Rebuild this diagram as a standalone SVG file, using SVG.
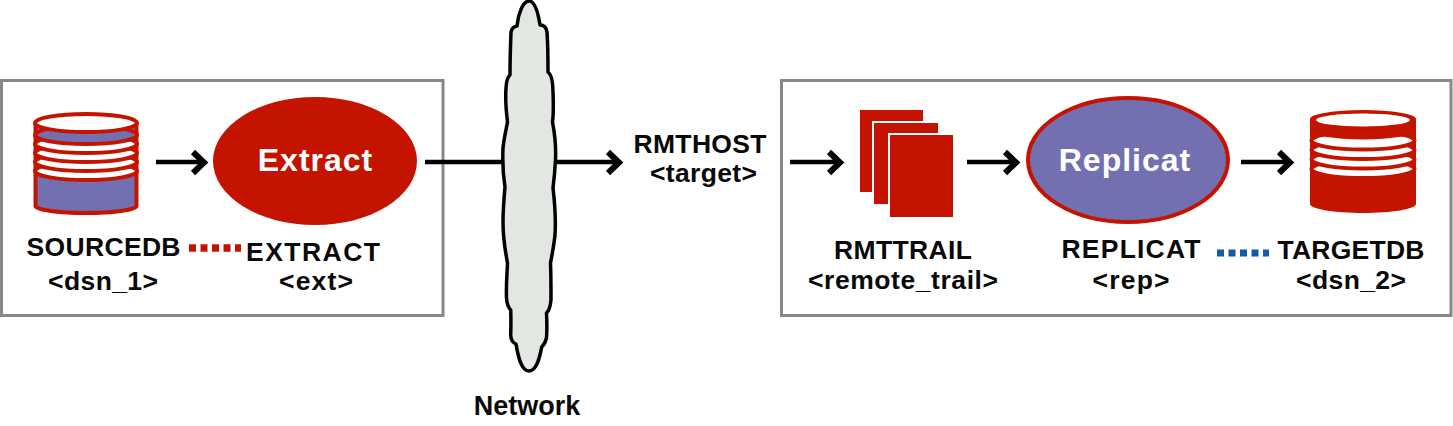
<svg xmlns="http://www.w3.org/2000/svg" width="1453" height="426" viewBox="0 0 1453 426">
<defs>
<style>
text{font-family:"Liberation Sans",Arial,sans-serif;font-weight:700;fill:#0a0a0a;text-anchor:middle;font-size:26.5px}
.box{fill:#fff;stroke:#888;stroke-width:3}
.arrow{fill:none;stroke:#000;stroke-width:4.500}
.head{fill:none;stroke:#000;stroke-width:6}
.big{fill:#fff;font-size:32px;letter-spacing:1px}
.ring{fill:#fff;stroke:#c41400;stroke-width:4}
</style>
</defs>
<rect width="1453" height="426" fill="#fff"/>
<g id="source-box"><rect class="box" x="1.500" y="80.500" width="441.500" height="235"/></g>
<g id="target-box"><rect class="box" x="781.500" y="80.500" width="669.500" height="235"/></g>
<g id="network">
<path d="M529 1C535 1 538 12 540 25Q546 25 547 32C548 45 548 60 548 72Q553 76 553 92C553.500 105 553.500 115 552.500 122C555 135 556 150 555.500 160C555 170 554 180 553 188C555 205 556 220 555 235C554 245 552 255 550.500 263C551 275 551 290 551 300Q550 310 546.500 313C547 322 547 330 546.500 338Q545 344 541.700 347C540 356 537 371 529 371C521 371 518 356 516 344Q511 342 510.700 335C511 325 511 318 510.700 310Q507 306 506.500 298C506 285 507 275 507.500 263C505 250 503 235 503 222C503 210 504 198 505 187C503 175 502.500 160 503 148C504 138 506 130 507.500 122C506 110 505.500 95 506 88Q506.500 78 510 75C510 60 510.500 45 511 32Q512 27 517 26C518 14 523 1 529 1Z" fill="#e2e7e2" stroke="#000" stroke-width="3.500" stroke-linejoin="round"/>
<text x="527" y="415" font-size="27" style="font-size:27px">Network</text>
</g>
<g id="connectors">
<path class="arrow" d="M156 162H203"/><path class="head" d="M193 152L204 162.500 193 173"/>
<path class="arrow" d="M425 162H503M555 162H618"/><path class="head" d="M608 152L619 162.500 608 173"/>
<path class="arrow" d="M790 162H838"/><path class="head" d="M829 152L840 162.500 829 173"/>
<path class="arrow" d="M967 162H1014"/><path class="head" d="M1005 152L1016 162.500 1005 173"/>
<path class="arrow" d="M1241 162H1288"/><path class="head" d="M1279 152L1290 162.500 1279 173"/>
<path d="M189 248H241" fill="none" stroke="#c41400" stroke-width="7.500" stroke-dasharray="7 4.500"/>
<path d="M1217 253H1269" fill="none" stroke="#1659a8" stroke-width="7" stroke-dasharray="7 4.500"/>
</g>
<g id="sourcedb">
<path d="M35.500 125V206C35.500 210 60 213 86 213C112 213 136.500 210 136.500 206V125Z" fill="#7370b2" stroke="#c41400" stroke-width="4"/>
<ellipse class="ring" cx="86" cy="171" rx="51" ry="9"/>
<ellipse class="ring" cx="86" cy="162" rx="51" ry="9"/>
<ellipse class="ring" cx="86" cy="153" rx="51" ry="9"/>
<ellipse class="ring" cx="86" cy="144" rx="51" ry="9"/>
<ellipse cx="86" cy="135" rx="51" ry="9" fill="#7370b2" stroke="#c41400" stroke-width="4"/>
<ellipse cx="86" cy="123" rx="51" ry="9" fill="#fff" stroke="#c41400" stroke-width="4"/>
<text x="103.500" y="256" textLength="154" lengthAdjust="spacing">SOURCEDB</text>
<text x="103" y="290" textLength="110" lengthAdjust="spacing">&lt;dsn_1&gt;</text>
</g>
<g id="extract">
<ellipse cx="315" cy="161" rx="102" ry="64" fill="#c41400"/>
<text class="big" x="315.500" y="171">Extract</text>
<text x="313" y="260.500" textLength="134" lengthAdjust="spacing">EXTRACT</text>
<text x="316" y="290" textLength="74" lengthAdjust="spacing">&lt;ext&gt;</text>
</g>
<g id="rmthost">
<text x="700" y="153" textLength="133" lengthAdjust="spacing">RMTHOST</text>
<text x="703.500" y="182" textLength="107" lengthAdjust="spacing">&lt;target&gt;</text>
</g>
<g id="rmttrail">
<rect x="860" y="110" width="63" height="82" fill="#c41400"/>
<rect x="872" y="121" width="67" height="85" fill="#fff"/>
<rect x="874" y="123" width="64" height="81" fill="#c41400"/>
<rect x="888" y="133" width="66" height="85" fill="#fff"/>
<rect x="890" y="135" width="63" height="82" fill="#c41400"/>
<text x="903" y="259" textLength="138" lengthAdjust="spacing">RMTTRAIL</text>
<text x="903" y="289" textLength="190" lengthAdjust="spacing">&lt;remote_trail&gt;</text>
</g>
<g id="replicat">
<ellipse cx="1128" cy="160" rx="100" ry="62" fill="#7370b2" stroke="#c41400" stroke-width="4"/>
<text class="big" x="1125" y="171">Replicat</text>
<text x="1131" y="258" textLength="139" lengthAdjust="spacing">REPLICAT</text>
<text x="1131" y="289" textLength="77" lengthAdjust="spacing">&lt;rep&gt;</text>
</g>
<g id="targetdb">
<path d="M1310 119V204C1310 209 1335 213 1363 213C1391 213 1416 209 1416 204V119Z" fill="#c41400"/>
<ellipse class="ring" cx="1363" cy="169" rx="51.500" ry="9"/>
<ellipse class="ring" cx="1363" cy="159.500" rx="51.500" ry="9"/>
<ellipse class="ring" cx="1363" cy="150" rx="51.500" ry="9"/>
<ellipse class="ring" cx="1363" cy="140.500" rx="51.500" ry="9"/>
<ellipse cx="1363" cy="130.500" rx="53" ry="9" fill="#c41400"/>
<ellipse cx="1363" cy="119" rx="53" ry="9" fill="#c41400"/>
<ellipse cx="1363" cy="120" rx="47" ry="6.500" fill="#fff"/>
<text x="1351" y="259" textLength="147" lengthAdjust="spacing">TARGETDB</text>
<text x="1351" y="289" textLength="110" lengthAdjust="spacing">&lt;dsn_2&gt;</text>
</g>
</svg>
